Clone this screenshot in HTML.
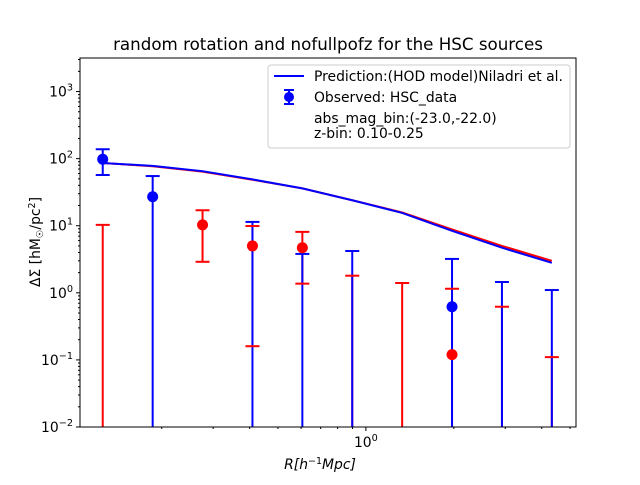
<!DOCTYPE html>
<html><head><meta charset="utf-8"><style>
body{margin:0;background:#fff}
svg{font-family:"DejaVu Sans","Liberation Sans",sans-serif}
</style></head><body>
<svg id="chart" width="640" height="480" viewBox="0 0 640 480" xmlns="http://www.w3.org/2000/svg">
<rect width="640" height="480" fill="#fff"/>
<text x="328" y="50" font-size="16.7" text-anchor="middle">random rotation and nofullpofz for the HSC sources</text>
<g id="marks"></g>
<rect x="80" y="58" width="496" height="369" fill="none" stroke="#000" stroke-width="1"/>
<g id="axes"></g>
<text x="320" y="469" font-size="13.9" text-anchor="middle" font-style="italic">R[h<tspan font-size="9.5" dy="-5" font-style="normal">−1</tspan><tspan dy="5">Mpc]</tspan></text>
<text transform="translate(40,242) rotate(-90)" font-size="13.9" text-anchor="middle">ΔΣ [hM<tspan font-size="9.5" dy="3">☉</tspan><tspan dy="-3">/pc</tspan><tspan font-size="9.5" dy="-5">2</tspan><tspan dy="5">]</tspan></text>
<g>
<rect x="268" y="65" width="302" height="83" rx="3" fill="#fff" stroke="#ccc"/>
<line x1="274" y1="76" x2="304" y2="76" stroke="#00f" stroke-width="2"/>
<line x1="289" y1="90" x2="289" y2="104" stroke="#00f" stroke-width="2"/>
<line x1="284" y1="90" x2="294" y2="90" stroke="#00f" stroke-width="2"/>
<line x1="284" y1="104" x2="294" y2="104" stroke="#00f" stroke-width="2"/>
<circle cx="289" cy="97" r="5" fill="#00f"/>
<text x="314" y="81" font-size="13.9">Prediction:(HOD model)Niladri et al.</text>
<text x="314" y="102" font-size="13.9">Observed: HSC_data</text>
<text x="314" y="123" font-size="13.9">abs_mag_bin:(-23.0,-22.0)</text>
<text x="314" y="138" font-size="13.9">z-bin: 0.10-0.25</text>
</g>
</svg>
<script>
const radii = [0.1256,0.1862,0.2759,0.4089,0.6060,0.8980,1.331,1.972,2.923,4.331];
const predBlue = [86,78,65,49,36,24,15.5,8.4,4.7,2.8];
const predRed = [86,77,64,48.5,36,24,15.8,8.8,5.0,3.0];
const blueVal = [98,27,null,null,null,null,null,0.62,null,null];
const blueUp = [138,55,null,11.4,3.8,4.2,null,3.2,1.45,1.1];
const blueLo = [57,null,null,null,null,null,null,null,null,null];
const redVal = [null,null,10.3,5.0,4.7,null,null,0.12,null,null];
const redUp = [10.3,null,17,9.9,8.1,1.8,1.4,1.15,0.62,0.11];
const redLo = [null,null,2.9,0.16,1.37,null,null,null,null,null];
const yTicks = [-2,-1,0,1,2,3];

const X0=80,X1=576,Y0=58,Y1=427;
const xl0=Math.log10(0.105), xl1=Math.log10(5.24);
const yl0=-2, yl1=3.5;
const xs=v=>X0+(Math.log10(v)-xl0)/(xl1-xl0)*(X1-X0);
const ys=v=>Y1-(Math.log10(v)-yl0)/(yl1-yl0)*(Y1-Y0);
const NS="http://www.w3.org/2000/svg";
const marks=document.getElementById('marks'), axes=document.getElementById('axes');
function mk(tag,attrs,parent){const e=document.createElementNS(NS,tag);for(const k in attrs)e.setAttribute(k,attrs[k]);parent.appendChild(e);return e;}

function line(vals,color,name){
  const p=mk('polyline',{points:vals.map((v,i)=>xs(radii[i])+','+ys(v)).join(' '),fill:'none',stroke:color,'stroke-width':2},marks);
  
  
}
line(predRed,'#f00','prediction-line-red');
line(predBlue,'#00f','prediction-line-blue');

function bars(up,lo,color,nm){
  up.forEach((u,i)=>{ if(u==null)return;
    const x=xs(radii[i]); const yb=lo[i]==null?Y1:ys(lo[i]);
    const l=mk('line',{x1:x,x2:x,y1:ys(u),y2:yb,stroke:color,'stroke-width':2},marks);
    
    
  });
}
function caps(up,lo,color,nm){
  [up,lo].forEach(arr=>arr.forEach((u,i)=>{ if(u==null)return;
    const x=xs(radii[i]);
    const c=mk('line',{x1:x-7,x2:x+7,y1:ys(u),y2:ys(u),stroke:color,'stroke-width':2},marks);
    
    
  }));
}
function pts(vals,color,nm){
  vals.forEach((v,i)=>{ if(v==null)return;
    const c=mk('circle',{cx:xs(radii[i]),cy:ys(v),r:5.5,fill:color},marks);
    
    
  });
}
bars(redUp,redLo,'#f00','red');
bars(blueUp,blueLo,'#00f','blue');
caps(blueUp,blueLo,'#00f','blue');
caps(redUp,redLo,'#f00','red');
pts(blueVal,'#00f','blue');
pts(redVal,'#f00','red');

yTicks.forEach(e=>{
  const y=Y1-(e-yl0)/(yl1-yl0)*(Y1-Y0);
  mk('line',{x1:X0-4,x2:X0,y1:y,y2:y,stroke:'#000'},axes);
  for(let m=2;m<10;m++){const yy=ys(m*Math.pow(10,e)); if(yy>=Y0) mk('line',{x1:X0-2,x2:X0,y1:yy,y2:yy,stroke:'#000'},axes);}
  const t=mk('text',{x:X0-7,y:y+5,'font-size':13.9,'text-anchor':'end'},axes);
  
  
  t.innerHTML='10<tspan font-size="9.7" dy="-6">'+(e<0?'−'+(-e):e)+'</tspan>';
});
[0.1,1].forEach(d=>{for(let m=1;m<10;m++){const v=m*d;const x=xs(v); if(x<X0||x>X1)continue;
  mk('line',{x1:x,x2:x,y1:Y1,y2:Y1+(m==1?4:2),stroke:'#000'},axes);}});
const xt=mk('text',{x:xs(1),y:Y1+20,'font-size':13.9,'text-anchor':'middle'},axes);


xt.innerHTML='10<tspan font-size="9.7" dy="-6">0</tspan>';
</script>
</body></html>
